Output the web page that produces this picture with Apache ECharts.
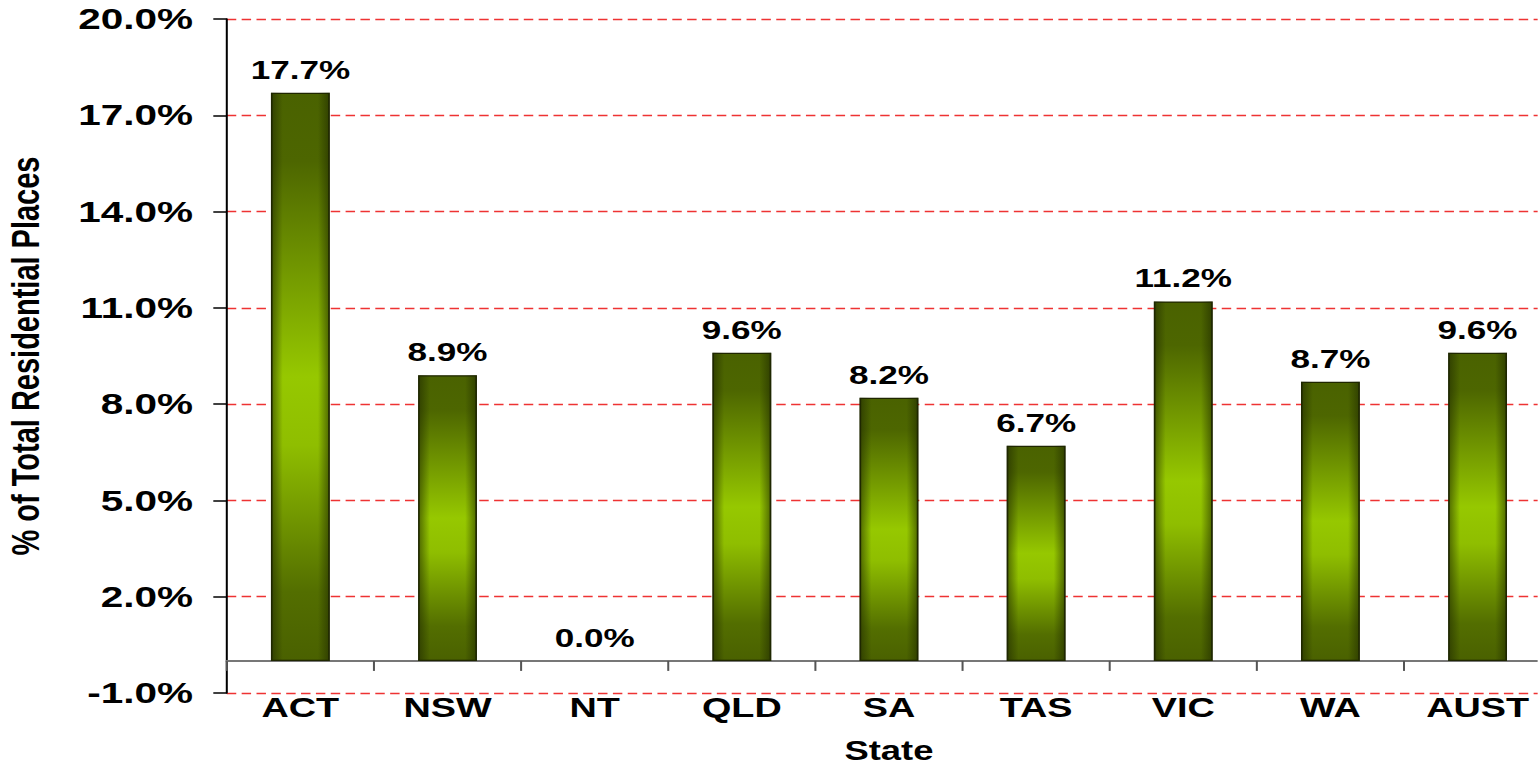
<!DOCTYPE html>
<html>
<head>
<meta charset="utf-8">
<script src="https://cdn.jsdelivr.net/npm/echarts@6/dist/echarts.min.js"></script>
<style>
  html, body { margin: 0; padding: 0; overflow: hidden; background: #fff; }
  /* the original is stretched horizontally, so the chart is drawn narrower and scaled */
  #bar { width: 1139px; height: 767px; transform: scaleX(1.35); transform-origin: 0 0; }
</style>
</head>
<body>
<div id="bar"></div>
<script>
const states = ['ACT', 'NSW', 'NT', 'QLD', 'SA', 'TAS', 'VIC', 'WA', 'AUST'];
const places = [17.7, 8.9, 0.0, 9.6, 8.2, 6.7, 11.2, 8.7, 9.6];
const yMin = -1;
const yMax = 20;
const yStep = 3;

const font = 'Liberation Sans, Arial, sans-serif';
let myChart = echarts.init(document.getElementById('bar'), null, { renderer: 'svg' });

// empty bars get no outline
const barData = places.map(v => v === 0 ? { value: v, itemStyle: { borderWidth: 0 } } : v);

myChart.setOption({
    animation: false,
    grid: { left: 168, right: -10, top: 19, bottom: 74, outerBoundsMode: 'none' },
    xAxis: {
        type: 'category',
        data: states,
        name: 'State',
        nameLocation: 'middle',
        nameGap: 45,
        nameMoveOverlap: false,
        nameTextStyle: { fontFamily: font, fontWeight: 'bold', fontSize: 27, lineHeight: 26, color: '#000' },
        axisLine: { onZero: true, lineStyle: { color: '#777', width: 2 } },
        axisTick: { show: true, length: 10, lineStyle: { color: '#555', width: 1.5 } },
        axisLabel: { margin: 0, fontFamily: font, fontWeight: 'bold', fontSize: 28, color: '#000' }
    },
    yAxis: {
        type: 'value',
        min: yMin,
        max: yMax,
        interval: yStep,
        name: '% of Total Residential Places',
        nameLocation: 'middle',
        nameGap: 135,
        nameTextStyle: { fontFamily: font, fontWeight: 'bold', fontSize: 29, color: '#000' },
        axisLine: { show: true, lineStyle: { color: '#000', width: 1.5 } },
        axisTick: { show: true, length: 10, lineStyle: { color: '#000', width: 1.5 } },
        axisLabel: {
            margin: 25,
            fontFamily: font, fontWeight: 'bold', fontSize: 30, color: '#000',
            formatter: v => v.toFixed(1) + '%'
        },
        splitLine: { show: true, lineStyle: { color: '#ee3333', type: [7, 4], width: 1.3 } }
    },
    series: [{
        name: 'places',
        type: 'bar',
        data: barData,
        barWidth: '40%',
        itemStyle: {
            borderColor: '#1f2600',
            borderWidth: 1.2,
            color: new echarts.graphic.LinearGradient(0, 0, 0, 1, [
                { offset: 0, color: '#4a6200' },
                { offset: 0.12, color: '#4d6600' },
                { offset: 0.5, color: '#96c800' },
                { offset: 0.62, color: '#8fbe00' },
                { offset: 0.88, color: '#536e00' },
                { offset: 1, color: '#4a6100' }
            ])
        },
        label: {
            show: true,
            position: 'top',
            distance: 10,
            fontFamily: font, fontWeight: 'bold', fontSize: 26, color: '#000',
            formatter: p => p.value.toFixed(1) + '%'
        }
    }, {
        name: 'shade',
        type: 'bar',
        data: places,
        barWidth: '40%',
        barGap: '-100%',
        silent: true,
        itemStyle: {
            color: new echarts.graphic.LinearGradient(0, 0, 1, 0, [
                { offset: 0, color: 'rgba(30,40,0,0.6)' },
                { offset: 0.2, color: 'rgba(30,40,0,0)' },
                { offset: 0.8, color: 'rgba(30,40,0,0)' },
                { offset: 1, color: 'rgba(30,40,0,0.6)' }
            ])
        }
    }]
});
</script>
</body>
</html>
